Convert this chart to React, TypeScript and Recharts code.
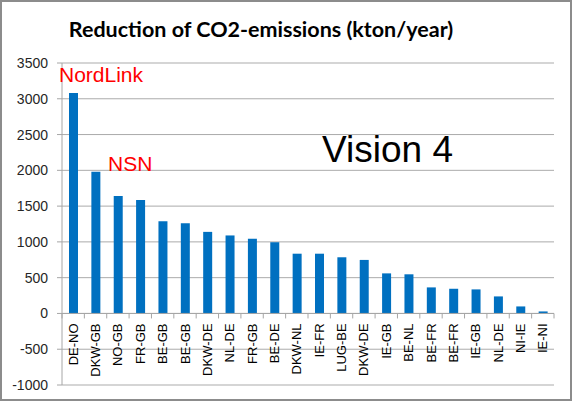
import React from 'react';
import { BarChart, Bar, XAxis, YAxis, CartesianGrid, ReferenceLine } from 'recharts';

const categories = ['DE-NO', 'DKW-GB', 'NO-GB', 'FR-GB', 'BE-GB', 'BE-GB', 'DKW-DE', 'NL-DE', 'FR-GB', 'BE-DE', 'DKW-NL', 'IE-FR', 'LUG-BE', 'DKW-DE', 'IE-GB', 'BE-NL', 'BE-FR', 'BE-FR', 'IE-GB', 'NL-DE', 'NI-IE', 'IE-NI'];
const reduction = [3080, 1980, 1640, 1585, 1290, 1260, 1140, 1090, 1045, 995, 835, 835, 785, 748, 560, 547, 364, 345, 336, 238, 98, 28];
const yTicks = [-1000, -500, 0, 500, 1000, 1500, 2000, 2500, 3000, 3500];

const data = categories.map((c, i) => ({ name: c, value: reduction[i] }));

const W = 572;
const H = 403;
const M = { top: 63, right: 18, bottom: 0, left: 0 };
const Y_W = 62;
const X_H = 18;
const PLOT_H = H - M.top - M.bottom - X_H;
const PLOT_W = W - M.left - M.right - Y_W;
const Y_MIN = -1000;
const Y_MAX = 3500;
const ZERO_Y = M.top + (PLOT_H * Y_MAX) / (Y_MAX - Y_MIN);
const BAND = PLOT_W / categories.length;

const XTick = (props: any) => {
  const { x, payload, index } = props;
  const last = index === categories.length - 1;
  return (
    <g>
      <line x1={x - BAND / 2} x2={x - BAND / 2} y1={ZERO_Y} y2={ZERO_Y + 5} stroke="#a6a6a6" />
      {last && <line x1={x + BAND / 2} x2={x + BAND / 2} y1={ZERO_Y} y2={ZERO_Y + 5} stroke="#a6a6a6" />}
      <text
        transform={`translate(${x + 4.5},${ZERO_Y + 10}) rotate(-90)`}
        textAnchor="end"
        fontSize={13}
        fontFamily="'Liberation Sans', Arial, sans-serif"
        fill="#000"
      >
        {payload.value}
      </text>
    </g>
  );
};

export default function App() {
  return (
    <div style={{ position: 'absolute', left: 0, top: 0, width: W, height: H, background: '#fff' }}>
      <div
        style={{
          position: 'absolute',
          left: 0,
          top: 0,
          width: 568,
          height: 397,
          border: '2px solid #8c8c8c',
        }}
      />
      <BarChart width={W} height={H} data={data} margin={M} barSize={9}>
        <CartesianGrid vertical={false} stroke="#ababab" />
        <XAxis
          dataKey="name"
          height={X_H}
          axisLine={false}
          tickLine={false}
          interval={0}
          tick={<XTick />}
        />
        <YAxis
          width={Y_W}
          domain={[Y_MIN, Y_MAX]}
          ticks={yTicks}
          interval={0}
          stroke="#a6a6a6"
          tickSize={5}
          tickMargin={9}
          tick={{ fontSize: 14, fill: '#262626', fontFamily: "'Liberation Sans', Arial, sans-serif" }}
        />
        <ReferenceLine y={0} stroke="#a6a6a6" />
        <Bar dataKey="value" fill="#0070c0" isAnimationActive={false} />
      </BarChart>
      <svg width={W} height={H} style={{ position: 'absolute', left: 0, top: 0, pointerEvents: 'none' }}>
        <text x={261} y={37} textAnchor="middle" fontSize={21.5} fontWeight="bold" fontFamily="Lato, 'Open Sans', sans-serif" fill="#000">
          Reduction of CO2-emissions (kton/year)
        </text>
        <text x={59} y={82} fontSize={21} fontFamily="'Liberation Sans', Arial, sans-serif" fill="#ff0000">
          NordLink
        </text>
        <text x={108} y={171} fontSize={21} fontFamily="'Liberation Sans', Arial, sans-serif" fill="#ff0000">
          NSN
        </text>
        <text x={322} y={162} fontSize={37} fontFamily="'Liberation Sans', Arial, sans-serif" fill="#000">
          Vision 4
        </text>
      </svg>
    </div>
  );
}
